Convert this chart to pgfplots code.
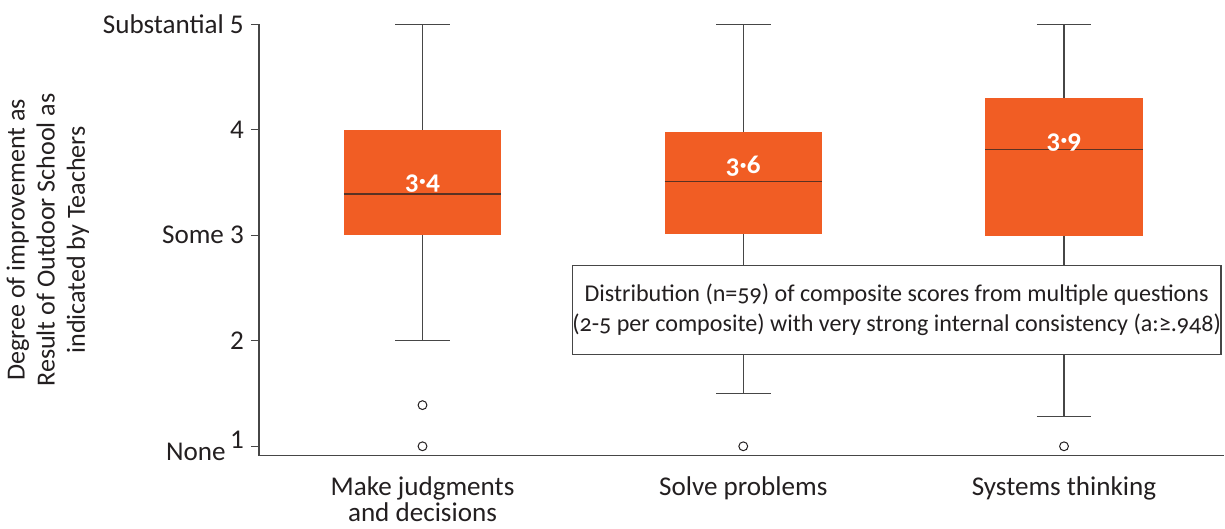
\documentclass[border=0pt]{standalone}
\usepackage{pgfplots}
\pgfplotsset{compat=1.18}
\usepgfplotslibrary{statistics}
\usepackage{fontspec}
\setmainfont{Carlito}
\newfontfamily\osf{Carlito}[Numbers=OldStyle]
\definecolor{boxor}{RGB}{241,93,36}
\definecolor{axgray}{RGB}{70,70,70}
\definecolor{medc}{RGB}{90,50,35}
\definecolor{txt}{RGB}{35,31,32}
\begin{document}
\begin{tikzpicture}
\begin{axis}[
  scale only axis,
  width=481pt, height=215pt,
  xmin=0.49, xmax=3.5,
  ymin=0.91, ymax=5,
  axis x line*=bottom, axis y line*=left,
  axis line style={axgray, line width=0.6pt},
  ytick={1,2,3,4,5},
  yticklabels={None\,\raisebox{6pt}{1}, 2, Some 3, 4, Substantial 5},
  y tick style={axgray, line width=0.5pt},
  tick align=outside,
  major tick length=4pt,
  xtick={1,2,3},
  xticklabels={Make judgments\\and decisions, Solve problems, Systems thinking},
  x tick style={draw=none},
  xticklabel style={align=center, font=\fontsize{13.5}{11.5}\selectfont, text=txt, yshift=-3pt},
  yticklabel style={font=\fontsize{13.5}{14}\selectfont, text=txt},
  ylabel={Degree of improvement as\\Result of Outdoor School as\\indicated by Teachers},
  ylabel style={align=center, font=\fontsize{13}{15}\selectfont, text=txt},
  clip=false,
  boxplot/draw direction=y,
  boxplot/box extend=0.49,
  boxplot/whisker extend=0.17,
  boxplot/every box/.style={draw=none, fill=boxor},
  boxplot/every median/.style={draw=medc, line width=0.6pt},
  boxplot/every whisker/.style={draw=axgray, line width=0.6pt},
]
\addplot+[boxplot prepared={median=3.39, upper quartile=4.0, lower quartile=3.0,
  upper whisker=5, lower whisker=2.0, draw position=1},
  mark=o, mark size=2.2pt, mark options={draw=txt, line width=0.5pt}, draw=axgray]
  coordinates {(0,1.39) (0,1.0)};
\addplot+[boxplot prepared={median=3.51, upper quartile=3.98, lower quartile=3.01,
  upper whisker=5, lower whisker=1.5, draw position=2},
  mark=o, mark size=2.2pt, mark options={draw=txt, line width=0.5pt}, draw=axgray]
  coordinates {(0,1.0)};
\addplot+[boxplot prepared={median=3.81, upper quartile=4.3, lower quartile=2.99,
  upper whisker=5, lower whisker=1.285, draw position=3},
  mark=o, mark size=2.2pt, mark options={draw=txt, line width=0.5pt}, draw=axgray]
  coordinates {(0,1.0)};
\node[text=white, font=\fontsize{13.5}{14}\selectfont\bfseries\osf] at (axis cs:1,3.49) {3·4};
\node[text=white, font=\fontsize{13.5}{14}\selectfont\bfseries\osf] at (axis cs:2,3.65) {3·6};
\node[text=white, font=\fontsize{13.5}{14}\selectfont\bfseries\osf] at (axis cs:3,3.88) {3·9};
\node[draw=axgray, line width=0.6pt, fill=white, minimum width=323pt, minimum height=44.5pt,
  align=center, text=txt, font=\fontsize{12}{15}\selectfont\osf, inner sep=0pt]
  at (axis cs:2.478,2.29) {Distribution (n=59) of composite scores from multiple questions\\(2-5 per composite) with very strong internal consistency (a:≥.948)};
\end{axis}
\path ([yshift=4pt]current bounding box.north) -- ++(0,0);
\end{tikzpicture}
\end{document}
